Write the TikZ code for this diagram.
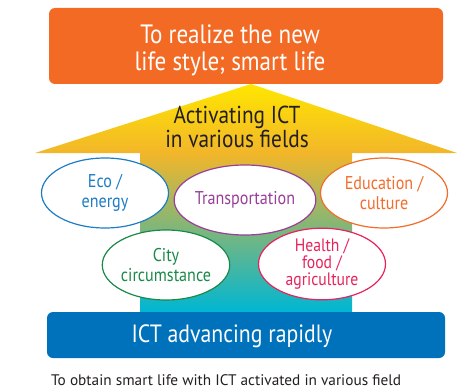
\documentclass[tikz,border=0pt]{standalone}
\usepackage{fontspec}
\setmainfont{PT Sans}[FakeStretch=0.87]
\newfontfamily\notefont{PT Sans}
\usetikzlibrary{shapes.geometric}
\definecolor{goalorange}{HTML}{F36A25}
\definecolor{baseblue}{HTML}{0072BC}
\definecolor{arrowyellow}{HTML}{FFE600}
\definecolor{arrowgold}{HTML}{F2B62A}
\definecolor{arrowgreen}{HTML}{93C985}
\definecolor{arrowcyan}{HTML}{00B6D3}
\definecolor{darktext}{HTML}{231F20}
\definecolor{ecoblue}{HTML}{1C7DC6}
\definecolor{transpurple}{HTML}{983F98}
\definecolor{eduorange}{HTML}{F26D2B}
\definecolor{citygreen}{HTML}{1A8A4A}
\definecolor{healthpink}{HTML}{E6235C}
\begin{document}
\begin{tikzpicture}[x=1pt,y=1pt,
  banner/.style={rounded corners=6pt},
  bannertext/.style={text=white,align=center},
  field/.style={ellipse,draw,fill=white,line width=1.2pt,inner sep=0pt,
    minimum width=127pt,minimum height=70pt,align=center,
    font=\fontsize{18.5}{19.5}\selectfont}]
\useasboundingbox (0,0) rectangle (468,389);
% big arrow
\shade[top color=arrowyellow,bottom color=arrowgold] (35,236) -- (251,305) -- (457,236) -- cycle;
\shade[top color=arrowgold,middle color=arrowgreen,bottom color=arrowcyan] (140,77) rectangle (352,236);
% banners
\node(goal)[banner,fill=goalorange,minimum width=394pt,minimum height=76pt] at (246,343){};
\node(goaltext)[bannertext,font=\fontsize{26.5}{27}\selectfont] at ([xshift=-16pt,yshift=-4pt]goal.center){To realize the new\\life style; smart life};
\node(base)[banner,fill=baseblue,minimum width=398pt,minimum height=46pt] at (246,54){};
\node(basetext)[bannertext,font=\fontsize{25}{26}\selectfont] at ([xshift=-14pt,yshift=-1pt]base.center){ICT advancing rapidly};
\node(theme)[align=center,text=darktext,font=\fontsize{24.5}{22}\selectfont] at (237,262){Activating ICT\\in various fields};
% fields
\node(eco)[field,draw=ecoblue,text=ecoblue] at (105,196){Eco /\\energy};
\node(trans)[field,draw=transpurple,text=transpurple] at (245,189){Transportation};
\node(edu)[field,draw=eduorange,text=eduorange] at (384,196){Education /\\culture};
\node(city)[field,draw=citygreen,text=citygreen] at (166,124){City\\circumstance};
\node(health)[field,draw=healthpink,text=healthpink,font=\fontsize{18}{17}\selectfont] at (322,125){Health /\\food /\\agriculture};
\node(note)[anchor=base west,inner sep=0pt,text=darktext,font=\notefont\fontsize{15.3}{16}\selectfont] at (51,4){To obtain smart life with ICT activated in various field};
\end{tikzpicture}
\end{document}
